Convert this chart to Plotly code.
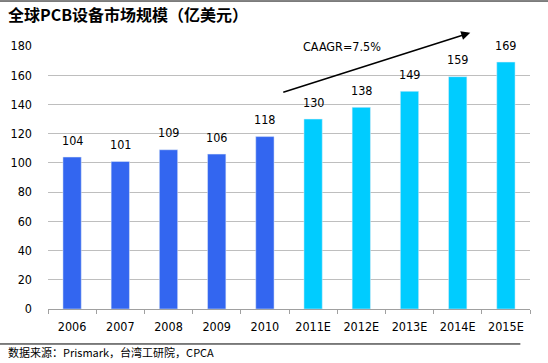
import plotly.graph_objects as go

categories = ["2006", "2007", "2008", "2009", "2010", "2011E", "2012E", "2013E", "2014E", "2015E"]
values = [104, 101, 109, 106, 118, 130, 138, 149, 159, 169]
colors = ["#3366F0"] * 5 + ["#00CCFF"] * 5
y_ticks = [0, 20, 40, 60, 80, 100, 120, 140, 160, 180]

FONT = "DejaVu Sans Condensed, DejaVu Sans, sans-serif"

fig = go.Figure()
fig.add_trace(go.Bar(
    x=categories, y=values, marker_color=colors, width=0.38,
))

label_annotations = [
    dict(text=str(v), x=i, y=v, xref="x", yref="y", showarrow=False,
         yanchor="middle", yshift=17,
         font=dict(family=FONT, size=12.5, color="#000000"))
    for i, v in enumerate(values)
]

fig.update_layout(
    width=548, height=363,
    margin=dict(l=48, r=18, t=46, b=54),
    plot_bgcolor="white", paper_bgcolor="white",
    showlegend=False,
    xaxis=dict(
        type="category", showgrid=False, showline=True, linecolor="#A0A0A0",
        ticks="outside", tickson="boundaries", ticklen=4, tickcolor="#A0A0A0",
        tickfont=dict(family=FONT, size=12.5, color="#000000"),
        ticklabelstandoff=6,
        range=[-0.5, 9.5],
    ),
    yaxis=dict(
        range=[0, 180], tickvals=y_ticks, showgrid=True, gridcolor="#BEBEBE",
        zeroline=False, showline=False,
        tickfont=dict(family=FONT, size=12.5, color="#000000"),
        ticklabelstandoff=15,
    ),
    annotations=label_annotations + [
        dict(text="<b>全球PCB设备市场规模（亿美元）</b>", xref="paper", yref="paper",
             x=-0.088, y=1.122, xanchor="left", yanchor="middle", showarrow=False,
             font=dict(family="Noto Sans CJK SC", size=16, color="#000000")),
        dict(text="数据来源：Prismark，台湾工研院，CPCA", xref="paper", yref="paper",
             x=-0.088, y=-0.163, xanchor="left", yanchor="middle", showarrow=False,
             font=dict(family="Noto Sans CJK SC", size=11, color="#000000")),
        dict(text="CAAGR=7.5%", xref="x", yref="y", x=5.6, y=180, showarrow=False,
             bgcolor="white", font=dict(family=FONT, size=12.5, color="#000000")),
        dict(x=8.26, y=189, ax=4.35, ay=148, xref="x", yref="y", axref="x", ayref="y",
             showarrow=True, arrowhead=2, arrowsize=1.2, arrowwidth=1.5, arrowcolor="#000000",
             text=""),
    ],
    shapes=[
        dict(type="line", xref="paper", yref="paper", x0=-0.1, x1=1.04, y0=1.171, y1=1.171,
             line=dict(color="#000000", width=1)),
        dict(type="line", xref="paper", yref="paper", x0=-0.1, x1=0.98, y0=-0.133, y1=-0.133,
             line=dict(color="#000000", width=1)),
    ],
)

fig.write_html("out.html", config={"displayModeBar": False},
               post_script="document.body.style.margin='0';")
